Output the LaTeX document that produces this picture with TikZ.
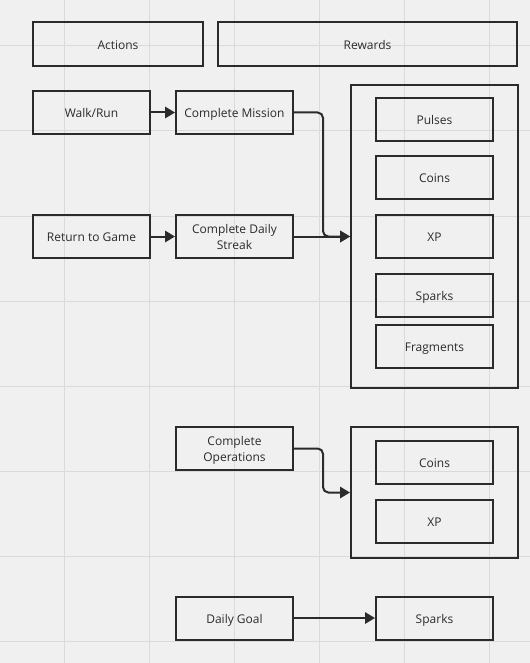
\documentclass[tikz,border=0pt]{standalone}
\usepackage{fontspec}
\setmainfont{Open Sans}
\usetikzlibrary{arrows.meta}
\definecolor{boardbg}{HTML}{F0F0F0}
\definecolor{gridline}{HTML}{DADADA}
\definecolor{ink}{HTML}{2B2B2B}
\tikzset{
  item/.style={draw=ink,line width=1.5pt,minimum width=87.75pt,minimum height=32.25pt,inner sep=2pt,align=center,text=ink,text height=8pt,text depth=0pt},
  twoline/.style={item,text height=,text depth=0pt},
  header/.style={item,minimum height=33pt},
  group/.style={draw=ink,line width=1.5pt,minimum width=125.25pt},
  flow/.style={->,draw=ink,line width=1.5pt,rounded corners=4pt}
}
\begin{document}
\begin{tikzpicture}[x=0.75pt,y=-0.75pt,>={Triangle[length=7.5pt,width=8.5pt]},font=\fontsize{9}{12}\selectfont]
  % board and grid
  \fill[boardbg] (0,0) rectangle (530,663);
  \useasboundingbox (0,0) rectangle (530,663);
  \foreach \gx in {64,149,...,489} \draw[gridline,line width=0.75pt] (\gx,0) -- (\gx,663);
  \foreach \gy in {46,131,...,641} \draw[gridline,line width=0.75pt] (0,\gy) -- (530,\gy);
  % headers
  \node[header,minimum width=127.5pt] (actions) at (118,44) {Actions};
  \node[header,minimum width=224.25pt] (rewards) at (367.5,44) {Rewards};
  % actions column
  \node[item] (walk) at (91.5,112.5) {Walk/Run};
  \node[item] (mission) at (234.5,112.5) {Complete Mission};
  \node[item] (return) at (91.5,236.5) {Return to Game};
  \node[twoline] (streak) at (234.5,236.5) {Complete Daily\\Streak};
  \node[twoline] (operations) at (234.5,448.5) {Complete\\Operations};
  \node[item] (goal) at (234.5,618) {Daily Goal};
  % first reward group
  \node[group,minimum height=227.25pt] (groupA) at (434.5,236.5) {};
  \node[item] (pulses) at (434.5,119.5) {Pulses};
  \node[item] (coinsA) at (434.5,177.5) {Coins};
  \node[item] (xpA) at (434.5,236.5) {XP};
  \node[item] (sparksA) at (434.5,295.5) {Sparks};
  \node[item] (fragments) at (434.5,346.5) {Fragments};
  % second reward group
  \node[group,minimum height=98.25pt] (groupB) at (434.5,492.5) {};
  \node[item] (coinsB) at (434.5,462.5) {Coins};
  \node[item] (xpB) at (434.5,521.5) {XP};
  % single reward
  \node[item] (sparksB) at (434.5,618) {Sparks};
  % connectors
  \draw[flow] (walk) -- (mission);
  \draw[flow] (return) -- (streak);
  \draw[flow] (mission.east) -- ++(29,0) |- (groupA.west);
  \draw[flow] (streak) -- (groupA);
  \draw[flow] (operations.east) -- ++(29,0) |- (groupB.west);
  \draw[flow] (goal) -- (sparksB);
\end{tikzpicture}
\end{document}
